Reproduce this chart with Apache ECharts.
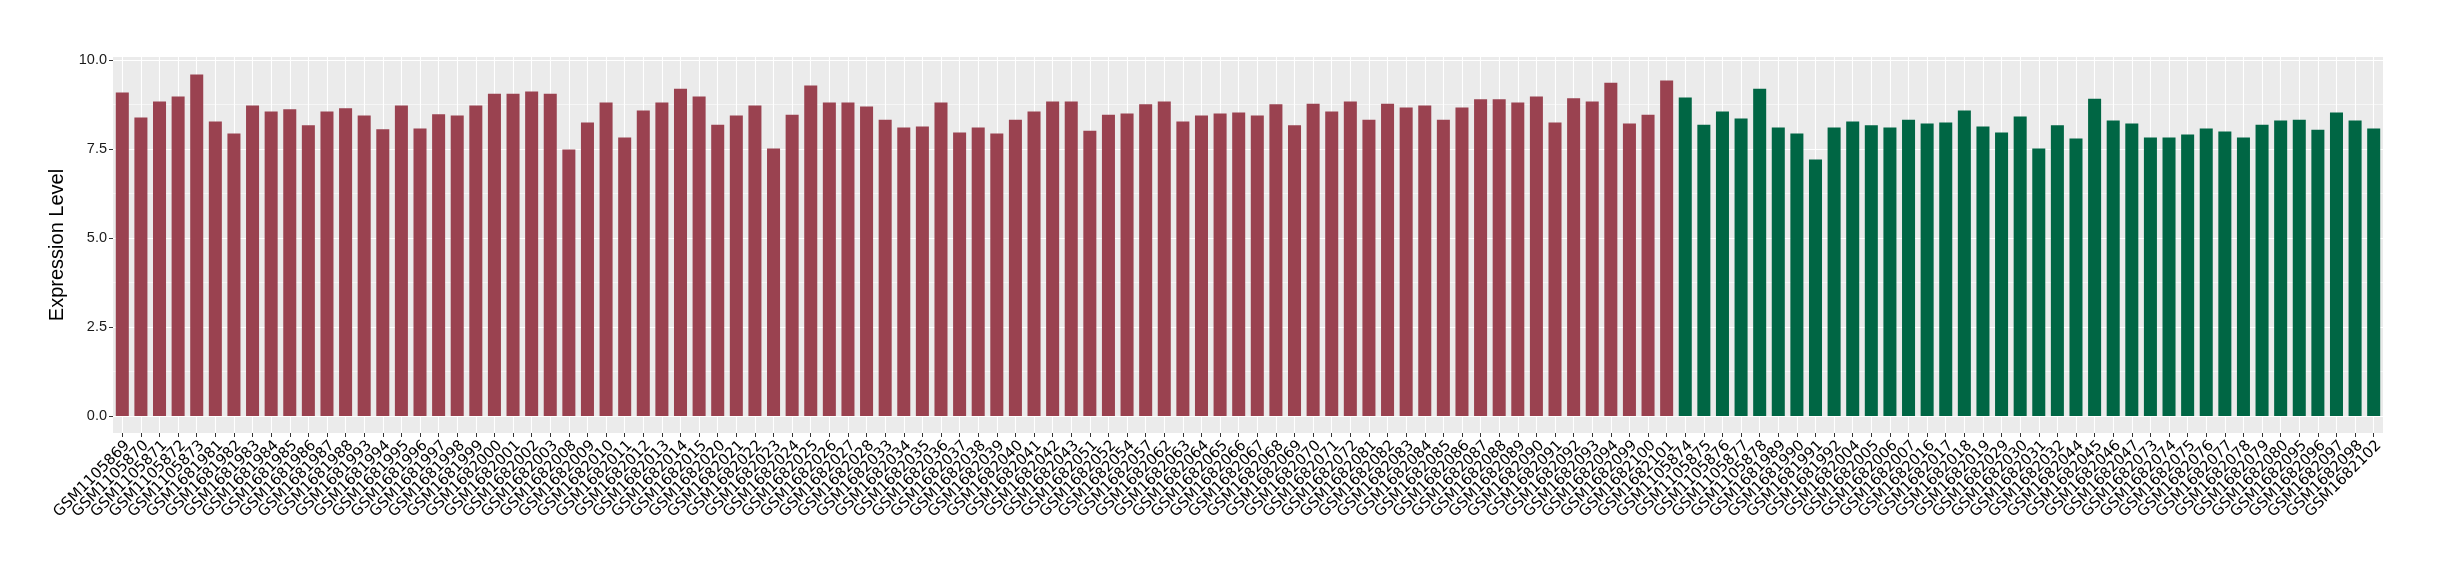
<!DOCTYPE html>
<html>
<head>
<meta charset="utf-8">
<script src="https://cdn.jsdelivr.net/npm/echarts@6/dist/echarts.min.js"></script>
<style>
html,body{margin:0;padding:0;background:#fff;}
#chart{width:2440px;height:580px;}
</style>
</head>
<body>
<div id="chart"></div>
<script>
// ---- data ----
const redSamples = [
  "GSM1105869","GSM1105870","GSM1105871","GSM1105872","GSM1105873",
  "GSM1681981","GSM1681982","GSM1681983","GSM1681984","GSM1681985","GSM1681986","GSM1681987","GSM1681988",
  "GSM1681993","GSM1681994","GSM1681995","GSM1681996","GSM1681997","GSM1681998","GSM1681999",
  "GSM1682000","GSM1682001","GSM1682002","GSM1682003",
  "GSM1682008","GSM1682009","GSM1682010","GSM1682011","GSM1682012","GSM1682013","GSM1682014","GSM1682015",
  "GSM1682020","GSM1682021","GSM1682022","GSM1682023","GSM1682024","GSM1682025","GSM1682026","GSM1682027","GSM1682028",
  "GSM1682033","GSM1682034","GSM1682035","GSM1682036","GSM1682037","GSM1682038","GSM1682039","GSM1682040","GSM1682041","GSM1682042","GSM1682043",
  "GSM1682051","GSM1682052","GSM1682054","GSM1682057","GSM1682062",
  "GSM1682063","GSM1682064","GSM1682065","GSM1682066","GSM1682067","GSM1682068","GSM1682069","GSM1682070","GSM1682071","GSM1682072",
  "GSM1682081","GSM1682082","GSM1682083","GSM1682084","GSM1682085","GSM1682086","GSM1682087","GSM1682088","GSM1682089","GSM1682090","GSM1682091","GSM1682092","GSM1682093","GSM1682094",
  "GSM1682099","GSM1682100","GSM1682101"
];
const redValues = [
  9.08,8.38,8.83,8.97,9.59,
  8.27,7.93,8.72,8.55,8.61,8.16,8.55,8.64,
  8.44,8.05,8.72,8.07,8.47,8.44,8.72,
  9.05,9.05,9.11,9.05,
  7.48,8.24,8.80,7.82,8.58,8.80,9.19,8.97,
  8.18,8.44,8.72,7.51,8.46,9.28,8.80,8.80,8.69,
  8.32,8.10,8.13,8.80,7.96,8.10,7.93,8.32,8.55,8.83,8.83,
  8.01,8.46,8.49,8.75,8.83,
  8.27,8.44,8.49,8.52,8.44,8.75,8.16,8.77,8.55,8.83,
  8.32,8.77,8.66,8.72,8.32,8.66,8.89,8.89,8.80,8.97,8.24,8.92,8.83,9.36,
  8.21,8.46,9.42
];
const greenSamples = [
  "GSM1105874","GSM1105875","GSM1105876","GSM1105877","GSM1105878",
  "GSM1681989","GSM1681990","GSM1681991","GSM1681992",
  "GSM1682004","GSM1682005","GSM1682006","GSM1682007",
  "GSM1682016","GSM1682017","GSM1682018","GSM1682019",
  "GSM1682029","GSM1682030","GSM1682031","GSM1682032",
  "GSM1682044","GSM1682045","GSM1682046","GSM1682047",
  "GSM1682073","GSM1682074","GSM1682075","GSM1682076","GSM1682077","GSM1682078","GSM1682079","GSM1682080",
  "GSM1682095","GSM1682096","GSM1682097","GSM1682098",
  "GSM1682102"
];
const greenValues = [
  8.94,8.18,8.55,8.35,9.19,
  8.10,7.93,7.20,8.10,
  8.27,8.16,8.10,8.32,
  8.21,8.24,8.58,8.13,
  7.96,8.41,7.51,8.16,
  7.79,8.91,8.30,8.21,
  7.82,7.82,7.90,8.07,7.99,7.82,8.18,8.30,
  8.32,8.04,8.52,8.30,
  8.07
];
const yTicks = [0, 2.5, 5, 7.5, 10];
const yMinorTicks = [1.25, 3.75, 6.25, 8.75];
const redColor = "#9A4250";
const greenColor = "#006644";

// ---- build ----
const categories = redSamples.concat(greenSamples);
const barData = redValues.map(v => ({value: v, itemStyle: {color: redColor}}))
  .concat(greenValues.map(v => ({value: v, itemStyle: {color: greenColor}})));

const gridLines = [];
yTicks.forEach(v => gridLines.push({yAxis: v, lineStyle: {color: "#ffffff", width: 1.1, type: "solid"}}));
yMinorTicks.forEach(v => gridLines.push({yAxis: v, lineStyle: {color: "#ffffff", width: 0.55, type: "solid"}}));
categories.forEach((c, i) => gridLines.push({xAxis: i, lineStyle: {color: "#ffffff", width: 1.1, type: "solid"}}));

const chart = echarts.init(document.getElementById("chart"), null, {renderer: "canvas"});
chart.setOption({
  animation: false,
  backgroundColor: "#ffffff",
  grid: {left: 113, right: 57, top: 57, bottom: 147, show: true, backgroundColor: "#EBEBEB", borderWidth: 0},
  xAxis: {
    type: "category",
    data: categories,
    boundaryGap: true,
    axisLine: {show: false, onZero: false},
    axisTick: {show: true, alignWithLabel: true, interval: 0, length: 4, lineStyle: {color: "#333333", width: 1}},
    axisLabel: {
      interval: 0, rotate: 45, margin: 5,
      align: "right", verticalAlign: "top",
      fontFamily: "DejaVu Sans", fontSize: 15, color: "#000000"
    },
    splitLine: {show: false}
  },
  yAxis: {
    type: "value",
    min: -0.48, max: 10.08,
    name: "Expression Level",
    nameLocation: "middle",
    nameRotate: 90,
    nameGap: 37,
    nameTextStyle: {fontFamily: "Liberation Sans", fontSize: 20, color: "#000000"},
    axisLine: {show: false},
    axisTick: {show: true, length: 4, customValues: yTicks, lineStyle: {color: "#333333", width: 1}},
    axisLabel: {
      customValues: yTicks, margin: 6,
      formatter: v => v.toFixed(1),
      fontFamily: "Liberation Sans", fontSize: 14.5, color: "#1a1a1a"
    },
    splitLine: {show: false},
    minorSplitLine: {show: false}
  },
  series: [{
    type: "bar",
    data: barData,
    barWidth: "70%",
    z: 2,
    markLine: {
      silent: true, z: 1, symbol: ["none", "none"], animation: false,
      label: {show: false},
      emphasis: {disabled: true},
      data: gridLines
    }
  }]
});
</script>
</body>
</html>
